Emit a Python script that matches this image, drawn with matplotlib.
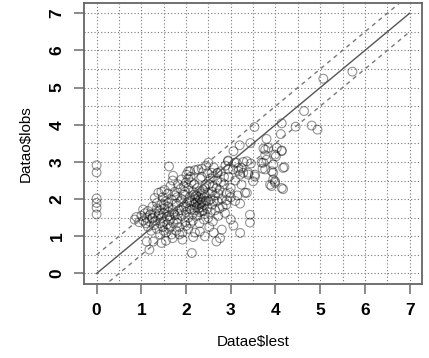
import matplotlib
matplotlib.use("Agg")
import matplotlib.pyplot as plt
import numpy as np

# DATOS (est = eje x, obs = eje y)
est_cero = [0, 0, 0, 0, 0, 0]
obs_cero = [1.59, 1.77, 1.90, 2.02, 2.72, 2.91]

est_nube = [0.85, 0.89, 0.95, 1.0, 1.04, 1.05, 1.08, 1.1, 1.12, 1.15, 1.15, 1.18, 1.2, 1.22, 1.25, 1.25,
            1.28, 1.3, 1.3, 1.32, 1.35, 1.35, 1.38, 1.38, 1.4, 1.42, 1.42, 1.45, 1.45, 1.48, 1.48, 1.5,
            1.5, 1.52, 1.52, 1.55, 1.55, 1.58, 1.58, 1.6, 1.6, 1.62, 1.62, 1.62, 1.65, 1.65, 1.68, 1.68,
            1.7, 1.7, 1.71, 1.72, 1.75, 1.75, 1.78, 1.78, 1.8, 1.8, 1.82, 1.85, 1.85, 1.88, 1.88, 1.9,
            1.9, 1.92, 1.92, 1.95, 1.95, 1.98, 2.0, 2.0, 2.01, 2.02, 2.05, 2.05, 2.05, 2.08, 2.08, 2.1,
            2.1, 2.12, 2.13, 2.15, 2.15, 2.16, 2.18, 2.18, 2.2, 2.2, 2.2, 2.22, 2.22, 2.24, 2.25, 2.25,
            2.26, 2.28, 2.28, 2.3, 2.3, 2.31, 2.32, 2.32, 2.34, 2.35, 2.35, 2.36, 2.38, 2.38, 2.4, 2.4,
            2.42, 2.42, 2.45, 2.45, 2.48, 2.48, 2.5, 2.5, 2.52, 2.55, 2.55, 2.58, 2.6, 2.6, 2.62, 2.62,
            2.65, 2.65, 2.68, 2.7, 2.7, 2.72, 2.75, 2.76, 2.78, 2.8, 2.8, 2.82, 2.85, 2.87, 2.88, 2.9,
            2.91, 2.94, 2.95, 2.98, 3.0, 3.0, 3.05, 3.06, 3.06, 3.1, 3.13, 3.15, 3.2, 3.21, 3.21, 3.24,
            3.24, 3.28, 3.32, 3.36, 3.36, 3.39, 3.43, 3.43, 3.44, 3.45, 3.5, 3.53, 3.54, 3.71, 3.73, 3.73,
            3.77, 3.77, 3.8, 3.8, 3.84, 3.88, 3.91, 3.92, 3.95, 3.95, 3.95, 3.99, 3.99, 3.99, 4.01, 4.03,
            4.12, 4.14, 4.14, 4.14, 4.14, 4.17, 4.17, 4.2, 4.45, 4.64, 4.81, 4.94, 5.07, 5.72]
obs_nube = [1.45, 1.52, 1.38, 1.55, 1.72, 1.42, 1.62, 1.35, 1.50, 1.25, 1.68, 1.40, 1.58, 1.15, 1.80, 1.48,
            1.30, 2.03, 1.62, 1.42, 1.90, 1.20, 2.17, 1.55, 1.70, 1.05, 1.35, 1.85, 1.50, 2.05, 1.25, 1.62,
            1.40, 2.25, 1.75, 1.10, 1.95, 1.52, 1.32, 2.15, 1.80, 2.88, 1.65, 1.20, 2.35, 1.45, 1.98, 1.05,
            1.72, 2.50, 2.63, 1.35, 2.20, 1.58, 1.88, 1.15, 2.05, 1.45, 2.40, 1.70, 1.25, 2.28, 1.95, 2.53,
            1.55, 1.10, 0.91, 2.12, 1.80, 1.38, 2.45, 1.65, 2.66, 1.90, 2.30, 1.50, 1.20, 2.05, 1.75, 2.60,
            1.35, 1.95, 0.55, 2.20, 1.60, 0.98, 1.85, 2.40, 1.70, 2.00, 1.10, 1.90, 2.10, 1.80, 1.55, 2.30,
            1.95, 1.75, 2.05, 1.85, 1.65, 1.13, 2.00, 2.55, 1.90, 1.78, 2.15, 1.95, 1.70, 2.25, 1.85, 2.05,
            1.60, 1.00, 2.40, 1.95, 1.75, 2.70, 2.15, 1.50, 1.25, 2.00, 2.55, 1.85, 2.35, 1.40, 2.85, 1.10,
            2.10, 1.70, 0.86, 2.50, 1.95, 1.55, 2.25, 0.95, 2.75, 1.18, 2.00, 1.80, 2.40, 1.63, 2.90, 2.15,
            1.97, 3.04, 2.60, 2.17, 2.30, 1.45, 2.80, 1.29, 3.29, 2.50, 2.98, 2.10, 3.45, 1.88, 1.09, 2.84,
            2.39, 3.00, 2.17, 3.02, 2.17, 2.66, 1.58, 1.37, 3.51, 2.96, 2.48, 3.94, 2.61, 2.82, 3.36, 2.98,
            3.18, 3.33, 3.62, 3.06, 3.38, 2.39, 2.35, 2.75, 2.93, 2.71, 2.53, 2.48, 3.20, 2.44, 3.15, 3.38,
            3.75, 4.04, 3.31, 3.29, 2.30, 2.84, 2.27, 2.86, 3.95, 4.37, 3.98, 3.87, 5.24, 5.43]

est_extra = [2.08, 2.18, 2.12, 2.35, 2.42, 2.3, 1.95, 2.05, 2.12, 2.35,
             2.42, 2.52, 2.6, 2.68, 2.72, 2.78, 2.58, 2.5, 2.62, 2.4, 2.3, 2.15, 2.0, 1.85, 1.7, 1.55,
             1.45, 1.27, 1.12, 1.18, 1.5, 1.65, 1.8, 2.55, 2.75, 2.9, 3.1, 3.0, 2.85, 2.7, 1.98, 1.9,
             1.75, 1.6, 1.5, 1.45, 1.35, 1.25, 1.4, 1.62, 1.72, 1.82, 1.9, 2.0, 2.05, 2.2, 2.35, 2.45,
             2.71, 3.09, 3.17, 3.28, 3.39, 3.54, 3.69, 3.77, 2.09, 2.27, 2.5, 2.57, 2.94, 2.94, 3.17, 3.21]
obs_extra = [1.92, 2.12, 1.72, 1.68, 2.12, 2.22, 2.35, 2.55, 2.45, 2.60,
             2.30, 2.40, 2.60, 2.30, 2.15, 2.45, 2.20, 1.95, 1.95, 1.45, 1.35, 1.42, 1.28, 1.05, 0.95, 0.88,
             0.82, 0.86, 0.86, 0.64, 1.15, 1.25, 1.35, 1.65, 1.75, 1.85, 1.95, 2.05, 2.60, 2.70, 2.20, 2.00,
             2.10, 1.90, 1.85, 2.20, 1.75, 1.50, 1.60, 1.55, 1.62, 1.60, 1.70, 1.80, 2.75, 2.78, 2.82, 2.90,
             2.71, 2.98, 2.75, 2.71, 2.71, 2.66, 2.98, 2.80, 2.75, 2.80, 2.98, 2.71, 3.02, 2.80, 2.84, 2.66]

est = np.array(est_cero + est_nube + est_extra)
obs = np.array(obs_cero + obs_nube + obs_extra)

# LINEAS DE REFERENCIA: 1:1 Y +/- 0.5
linea_x = [0, 7]
banda = 0.5

fig = plt.figure(figsize=(4.29, 3.58), dpi=100)
ax = fig.add_axes([0.196, 0.207, 0.788, 0.785])

ax.set_xlim(-0.28, 7.28)
ax.set_ylim(-0.28, 7.28)

# CUADRICULA PUNTEADA CADA 0.5
for v in np.arange(0, 7.01, 0.5):
    ax.axvline(v, color="#777777", linestyle=(0, (1, 2)), linewidth=0.8, zorder=0)
    ax.axhline(v, color="#777777", linestyle=(0, (1, 2)), linewidth=0.8, zorder=0)

ax.scatter(est, obs, s=40, facecolors="none", edgecolors=(0, 0, 0, 0.42), linewidths=0.8, zorder=2)

ax.plot(linea_x, linea_x, color="#555555", linewidth=1.0, zorder=3)
ax.plot(linea_x, [x + banda for x in linea_x], color="#777777", linewidth=1.0,
        linestyle=(0, (3, 3)), zorder=3)
ax.plot(linea_x, [x - banda for x in linea_x], color="#777777", linewidth=1.0,
        linestyle=(0, (3, 3)), zorder=3)

ax.set_xticks(range(0, 8))
ax.set_yticks(range(0, 8))
ax.tick_params(length=7, width=1.2, color="#777777", pad=7, labelsize=12.5)
for lab in ax.get_xticklabels() + ax.get_yticklabels():
    lab.set_fontweight("bold")
    lab.set_family("Liberation Sans")
for lab in ax.get_yticklabels():
    lab.set_rotation(90)
    lab.set_va("center")

for s in ax.spines.values():
    s.set_color("#666666")
    s.set_linewidth(1.3)

ax.set_xlabel("Datae\\$lest", fontsize=11, family="Liberation Sans", labelpad=12)
ax.set_ylabel("Datao\\$lobs", fontsize=11, family="Liberation Sans", labelpad=12)

fig.savefig("out.png", dpi=100)
